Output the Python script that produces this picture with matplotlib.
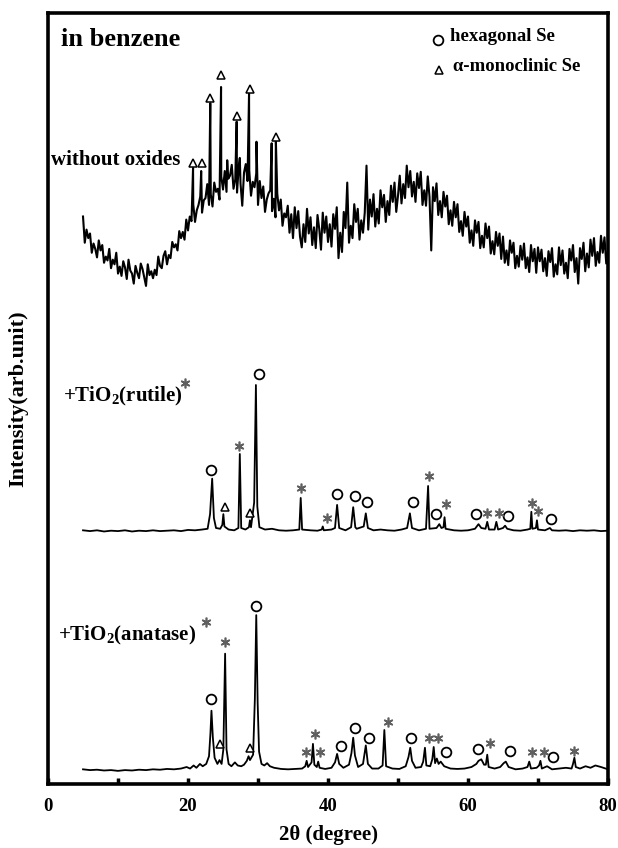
import numpy as np
import matplotlib
matplotlib.use("Agg")
import matplotlib.pyplot as plt

plt.rcParams['font.family'] = 'Liberation Serif'
plt.rcParams['font.weight'] = 'bold'
plt.rcParams['axes.labelweight'] = 'bold'
plt.rcParams['mathtext.fontset'] = 'custom'
plt.rcParams['mathtext.rm'] = 'Liberation Serif:bold'
plt.rcParams['mathtext.it'] = 'Liberation Serif:bold'
plt.rcParams['mathtext.bf'] = 'Liberation Serif:bold'

# ---- without oxides: noisy pattern, 0.25 deg steps from 5 to 80 ----
top_x = np.arange(301) * 0.25 + 5.0
top_y = [
    73.6, 70.2, 71.9, 70.8, 71.4, 68.9, 70.1, 69.4, 68.3, 70.5, 69.2, 69.9, 67.6, 68.4, 67.9, 69.4, 66.9, 68.0, 67.4, 68.9,
    66.2, 67.1, 65.9, 67.8, 67.0, 65.5, 68.0, 66.6, 66.2, 64.9, 67.2, 66.3, 65.6, 67.5, 66.8, 65.7, 64.6, 67.4, 66.0, 66.5,
    65.6, 66.7, 66.0, 68.4, 67.2, 66.9, 68.5, 69.1, 67.4, 68.6, 68.2, 70.3, 69.6, 70.0, 69.2, 71.7, 70.8, 71.6, 70.6, 73.2,
    71.8, 73.6, 73.0, 75.2, 72.9, 74.4, 75.1, 76.2, 74.1, 75.7, 76.0, 77.8, 75.1, 76.5, 74.9, 78.0, 76.8, 77.2, 75.8, 78.8,
    77.1, 79.5, 76.8, 78.5, 78.9, 80.3, 77.2, 78.4, 76.7, 80.1, 77.9, 75.0, 79.3, 80.4, 78.2, 79.6, 76.3, 78.1, 77.4, 79.2,
    75.1, 78.2, 76.0, 77.5, 74.2, 75.8, 76.6, 77.0, 74.3, 75.9, 73.5, 76.6, 74.4, 75.8, 72.4, 74.0, 73.5, 75.0, 71.5, 73.9,
    70.8, 74.8, 72.1, 74.3, 71.0, 69.6, 72.6, 70.3, 74.6, 71.4, 73.5, 69.9, 72.2, 69.5, 73.8, 72.0, 69.3, 74.1, 71.5, 73.6,
    70.3, 72.6, 69.7, 73.9, 72.0, 74.8, 68.2, 71.5, 69.0, 74.2, 72.1, 78.0, 70.2, 72.4, 70.8, 75.2, 72.9, 74.6, 70.6, 73.1,
    71.5, 74.1, 80.2, 71.9, 75.8, 73.6, 76.5, 72.3, 74.6, 72.7, 77.0, 74.8, 76.4, 72.9, 75.6, 73.8, 77.6, 75.5, 78.0, 74.2,
    76.3, 78.9, 75.3, 77.8, 76.0, 80.2, 77.4, 79.5, 76.2, 78.1, 75.5, 79.2, 77.3, 79.4, 75.1, 77.0, 75.0, 78.8, 76.2, 69.2,
    77.4, 75.6, 77.9, 73.8, 75.6, 73.5, 76.8, 74.9, 76.3, 72.6, 74.4, 72.4, 75.5, 73.5, 75.2, 71.6, 73.0, 71.1, 74.2, 72.3,
    73.6, 70.2, 71.8, 69.8, 73.1, 71.5, 72.9, 69.5, 71.1, 69.6, 72.7, 70.8, 72.3, 68.8, 70.4, 68.7, 71.6, 69.8, 71.4, 68.1,
    71.0, 67.6, 69.2, 67.3, 70.5, 68.9, 70.2, 66.9, 68.5, 67.1, 69.8, 68.0, 70.1, 66.9, 68.3, 66.4, 69.9, 67.8, 69.4, 66.3,
    69.6, 67.8, 69.3, 66.5, 68.2, 65.9, 69.1, 67.7, 69.5, 65.8, 67.4, 66.1, 69.6, 67.3, 69.2, 66.2, 67.6, 65.6, 69.4, 67.9,
    69.9, 66.4, 68.2, 64.9, 69.5, 68.1, 70.2, 66.5, 68.8, 67.0, 70.6, 68.5, 70.8, 67.2, 69.0, 67.6, 71.1, 68.9, 70.9, 67.5,
    69.2,
]
# sharp alpha-monoclinic Se reflections on top of the hump
top_peak_x = [20.72, 21.88, 23.18, 24.72, 25.60, 26.95, 27.40, 28.72, 29.78, 31.95, 32.55]
top_peak_y = [79.9, 79.5, 88.3, 90.4, 80.9, 85.9, 81.2, 89.6, 83.3, 83.1, 83.5]

# ---- +TiO2 (rutile) ----
rut_x = [5, 6, 7, 8, 9, 10, 11, 12, 13, 14, 15, 16, 17, 18, 19, 20, 21, 22, 22.8, 23.15, 23.45, 23.7, 24.0,
         24.6, 24.9, 25.05, 25.2, 25.8, 26.6, 27.2, 27.4, 27.6, 28.2, 28.7, 28.85, 29.0, 29.45, 29.7, 29.9,
         30.2, 31.0, 32.0, 33.0, 34.0, 35.0, 35.9, 36.1, 36.3, 37.5, 38.5, 39.1, 39.25, 39.4, 40.5, 41.0,
         41.3, 41.6, 42.5, 43.3, 43.6, 43.9, 44.1, 45.1, 45.4, 45.7, 46.5, 47.5, 48.5, 49.5, 50.5, 51.3,
         51.7, 52.0, 53.0, 54.0, 54.3, 54.5, 55.5, 55.9, 56.2, 56.5, 56.65, 56.8, 58.0, 59.0, 60.0, 61.0,
         61.5, 61.9, 62.5, 62.75, 63.0, 63.8, 64.05, 64.3, 65.0, 65.3, 65.6, 66.5, 67.5, 68.5, 68.9, 69.05,
         69.2, 69.7, 69.85, 70.0, 71.0, 71.7, 72.0, 73, 74, 75, 76, 77, 78, 79, 80]
rut_y = [32.9, 32.8, 32.9, 32.75, 32.85, 32.8, 32.9, 32.75, 32.85, 32.8, 32.9, 32.8, 32.85, 32.9, 32.8, 32.95,
         32.9, 33.0, 33.1, 35.0, 39.6, 34.5, 33.2, 33.1, 33.6, 35.0, 33.4, 33.0, 32.9, 33.2, 42.8, 33.2, 33.0,
         33.3, 34.2, 33.3, 36.5, 51.75, 36.0, 33.3, 33.0, 33.1, 32.9, 32.85, 32.9, 33.0, 37.1, 33.0, 32.9,
         32.85, 33.0, 33.4, 32.9, 33.0, 33.2, 36.2, 33.2, 32.9, 33.3, 35.9, 33.3, 33.1, 33.4, 35.1, 33.2,
         32.9, 33.0, 32.9, 32.85, 33.0, 33.2, 35.1, 33.2, 32.9, 33.1, 38.65, 33.1, 33.2, 33.7, 33.2, 33.3,
         34.6, 33.1, 32.9, 32.85, 32.9, 33.1, 33.7, 33.2, 33.1, 34.0, 33.0, 33.0, 34.0, 33.0, 33.2, 33.5,
         33.1, 32.9, 32.85, 33.0, 33.1, 35.3, 33.1, 33.2, 34.2, 33.0, 32.9, 33.2, 32.9, 32.85, 32.9, 32.8,
         32.9, 32.85, 32.9, 32.8, 32.85]

# ---- +TiO2 (anatase) ----
ana_x = [5, 6, 7, 8, 9, 10, 11, 12, 13, 14, 15, 16, 17, 18, 19, 19.8, 20.3, 20.8, 21.2, 21.7, 22.1, 22.6,
         23.0, 23.2, 23.35, 23.55, 23.8, 24.2, 24.5, 24.8, 25.05, 25.3, 25.5, 25.8, 26.2, 26.7, 27.1, 27.6,
         28.0, 28.4, 28.65, 28.85, 29.3, 29.55, 29.75, 29.95, 30.15, 30.5, 30.9, 31.3, 31.7, 32.3, 33.3,
         34.3, 35.3, 36.3, 36.75, 36.95, 37.15, 37.65, 37.85, 38.05, 38.4, 38.6, 38.8, 39.6, 40.5, 41.0,
         41.3, 41.6, 42.2, 43.0, 43.35, 43.6, 43.85, 44.3, 45.0, 45.4, 45.7, 46.3, 47.2, 47.8, 48.05, 48.3,
         49.2, 50.2, 51.1, 51.5, 51.75, 52.0, 52.5, 53.3, 53.6, 53.85, 54.05, 54.6, 54.9, 55.1, 55.3, 55.55,
         55.8, 56.1, 56.6, 57.5, 58.5, 59.5, 60.5, 61.2, 61.5, 61.9, 62.3, 62.55, 62.75, 62.95, 63.8, 64.6,
         65.1, 65.4, 65.8, 66.8, 67.8, 68.5, 68.75, 69.0, 69.8, 70.15, 70.35, 70.55, 71.3, 72.0, 73.0, 74.0,
         74.8, 75.0, 75.2, 75.4, 76.0, 76.8, 77.5, 78.2, 79.0, 80.0]
ana_y = [1.9, 1.8, 1.85, 1.75, 1.8, 1.7, 1.8, 1.75, 1.85, 1.8, 1.9, 1.85, 1.95, 1.9, 2.0, 2.2, 2.0, 2.4, 2.1,
         2.6, 2.3, 2.6, 3.6, 6.5, 9.5, 6.0, 3.4, 2.6, 3.1, 2.6, 4.5, 16.9, 4.5, 2.6, 2.3, 2.8, 2.4, 2.3, 2.5,
         3.0, 3.6, 3.1, 3.8, 11.0, 21.9, 10.5, 4.2, 2.6, 2.4, 2.7, 2.3, 2.1, 1.95, 1.9, 1.95, 2.0, 2.3, 3.0,
         2.2, 2.8, 5.2, 2.5, 2.2, 2.9, 2.1, 1.95, 2.1, 2.8, 3.9, 2.6, 2.1, 2.5, 4.0, 6.0, 3.7, 2.2, 2.6, 5.0,
         2.6, 2.0, 2.0, 2.4, 7.0, 2.3, 2.0, 1.95, 2.3, 3.5, 4.7, 3.0, 2.1, 2.2, 2.9, 4.7, 2.4, 2.3, 3.2, 4.8,
         2.7, 3.3, 2.6, 2.9, 2.3, 2.0, 1.95, 2.0, 2.2, 2.6, 3.0, 3.2, 2.5, 2.5, 3.8, 2.2, 2.0, 2.2, 2.7, 2.9,
         2.2, 1.9, 2.0, 2.2, 2.9, 2.0, 2.1, 2.4, 3.0, 2.0, 2.3, 1.9, 2.0, 2.1, 2.0, 2.6, 3.4, 2.2, 2.0, 2.3,
         2.1, 2.4, 2.2, 1.9]

# ---- phase markers (hexagonal Se = circle, alpha-monoclinic Se = triangle, TiO2 = asterisk) ----
hex_x = [23.3, 30.2, 41.3, 43.9, 45.6, 52.1, 55.4, 61.2, 65.7, 71.8,
         23.3, 29.75, 41.8, 43.9, 45.9, 51.8, 56.8, 61.4, 66.0, 72.2]
hex_y = [40.7, 53.2, 37.6, 37.4, 36.6, 36.6, 35.0, 35.0, 34.7, 34.4,
         11.0, 23.1, 4.9, 7.3, 6.0, 6.0, 4.15, 4.5, 4.3, 3.5]
mono_x = [20.7, 22.0, 23.2, 24.7, 27.0, 28.9, 32.6, 25.3, 28.9, 24.5, 28.9]
mono_y = [80.5, 80.5, 89.0, 92.0, 86.6, 90.1, 83.9, 35.9, 35.1, 5.2, 4.7]
tio2_x = [19.6, 27.3, 36.2, 39.8, 54.4, 56.8, 62.7, 64.4, 69.2, 70.0,
          22.5, 25.3, 36.9, 38.2, 38.9, 48.5, 54.4, 55.7, 63.2, 69.2, 70.8, 75.2]
tio2_y = [52.0, 43.8, 38.4, 34.5, 39.9, 36.3, 35.1, 35.1, 36.4, 35.4,
          21.0, 18.4, 4.15, 6.5, 4.15, 8.0, 6.0, 6.0, 5.3, 4.15, 4.15, 4.3]

x_major = [0, 20, 40, 60, 80]
x_minor = [10, 30, 50, 70]

# merge sharp peaks into the noisy pattern
tx = np.concatenate([top_x, top_peak_x])
ty = np.concatenate([top_y, top_peak_y])
order = np.argsort(tx)
tx, ty = tx[order], ty[order]

fig = plt.figure(figsize=(6.18, 8.48), dpi=100)
ax = fig.add_axes([0.0777, 0.0755, 0.9061, 0.9092])

ax.plot(tx, ty, color='black', lw=1.5)
ax.plot(rut_x, rut_y, color='black', lw=1.3)
ax.plot(ana_x, ana_y, color='black', lw=1.3)

ax.plot(hex_x, hex_y, ls='none', marker='o', ms=7, mfc='white', mec='black', mew=1.3)
ax.plot(mono_x, mono_y, ls='none', marker='^', ms=6, mfc='white', mec='black', mew=1.1)
ax.plot(tio2_x, tio2_y, ls='none', marker=(6, 2, 0), ms=7, mec='#606060', mew=1.2)

# legend drawn by hand like the original
ax.plot([55.7], [96.5], ls='none', marker='o', ms=7, mfc='white', mec='black', mew=1.3)
ax.plot([55.8], [92.6], ls='none', marker='^', ms=6, mfc='white', mec='black', mew=1.1)
ax.text(57.5, 96.9, 'hexagonal Se', fontsize=13.5, va='center', ha='left')
ax.text(57.9, 93.0, 'α-monoclinic Se', fontsize=13.5, va='center', ha='left')

ax.text(1.9, 96.6, 'in benzene', fontsize=19, va='center', ha='left')
ax.text(0.4, 80.9, 'without oxides', fontsize=15, va='center', ha='left')
ax.text(2.1, 50.3, '+TiO$_2$(rutile)', fontsize=15, va='center', ha='left')
ax.text(1.4, 19.3, '+TiO$_2$(anatase)', fontsize=15, va='center', ha='left')

ax.set_xlim(0, 80)
ax.set_ylim(0, 100)
ax.set_xticks(x_major)
ax.set_xticks(x_minor, minor=True)
ax.set_yticks([])
ax.tick_params(axis='x', which='both', direction='in', length=4, width=2.5, labelsize=13.5, pad=10)
for lab in ax.get_xticklabels():
    lab.set_fontweight('bold')
for sp in ax.spines.values():
    sp.set_linewidth(2.6)

ax.set_xlabel('2θ (degree)', fontsize=15, fontweight='bold', labelpad=7)
ax.set_ylabel('Intensity(arb.unit)', fontsize=16, fontweight='bold', labelpad=14)

fig.savefig('out.png', dpi=100)
